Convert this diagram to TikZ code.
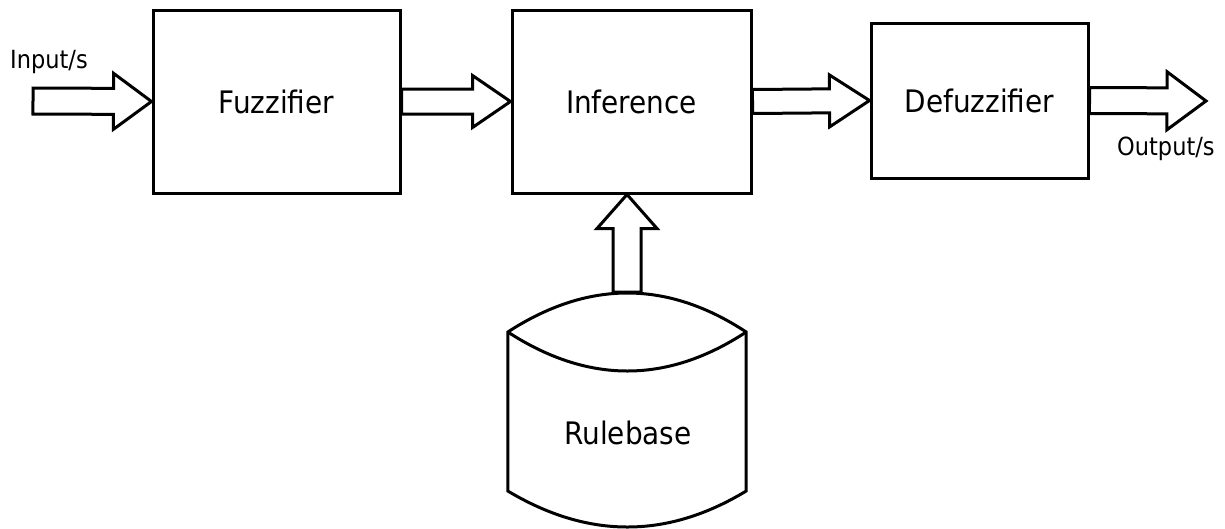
\documentclass[tikz,border=0pt]{standalone}
\usepackage{fontspec}
\setmainfont{DejaVu Sans Condensed}
\usetikzlibrary{calc}

% Hollow block arrow from #1 to #2: half shaft width #3, half head width #4, head length #5 (pt)
\newcommand\blockarrow[5]{%
  \draw[outline] let \p1=(#1), \p2=(#2),
      \n1={veclen(\x2-\x1,\y2-\y1)}, \n2={atan2(\y2-\y1,\x2-\x1)} in
    [shift={(\p1)}, rotate={\n2}]
    (0pt,#3pt) -- ({\n1-#5pt},#3pt) -- ({\n1-#5pt},#4pt) -- (\n1,0pt)
    -- ({\n1-#5pt},-#4pt) -- ({\n1-#5pt},-#3pt) -- (0pt,-#3pt) -- cycle;}

\begin{document}
\begin{tikzpicture}[x=1pt,y=-1pt,
  outline/.style={draw=black,line width=3pt,line join=miter,fill=white},
  block/.style={outline,rectangle,inner sep=0pt,font=\fontsize{31}{36}\selectfont},
  tag/.style={inner sep=0pt,font=\fontsize{25}{30}\selectfont}]
\useasboundingbox[fill=white] (0,0) rectangle (1225,528);

% processing blocks
\node[block,minimum width=247pt,minimum height=183pt] (fuzz) at (276.5,101.5) {Fuzzifier};
\node[block,minimum width=239pt,minimum height=183pt] (inf) at (631.5,101.5) {Inference};
\node[block,minimum width=217pt,minimum height=155pt] (defuzz) at (979.5,100.5) {Defuzzifier};

% rule base drum
\node[inner sep=0pt,minimum width=238pt,minimum height=234pt] (rule) at (627,410) {};
\draw[outline]
  (rule.west |- 0,332) .. controls (588,280) and (667,280) .. (rule.east |- 0,332)
  -- (rule.east |- 0,491) .. controls (667,539) and (588,539) .. (rule.west |- 0,491) -- cycle;
\draw[outline,fill=none]
  (rule.west |- 0,332) .. controls (588,384) and (667,384) .. (rule.east |- 0,332);
\node[font=\fontsize{31}{36}\selectfont,inner sep=0pt] (rulelabel) at (628,433) {Rulebase};
\coordinate (ruletop) at (rule.north |- 0,292);

% signal path
\coordinate (in) at (33,101);
\coordinate (out) at (1206,101);
\blockarrow{in}{fuzz.west}{13}{28}{38}
\blockarrow{fuzz.east}{inf.west}{12.5}{26}{38}
\blockarrow{inf.east}{defuzz.west}{12}{26}{40}
\blockarrow{defuzz.east}{out}{13}{29}{39}
\blockarrow{ruletop}{inf.south -| ruletop}{14}{30}{34}

% external signal labels
\node[tag,anchor=base west] (inlabel) at (10,68) {Input/s};
\node[tag,anchor=base west] (outlabel) at (1117,155) {Output/s};
\end{tikzpicture}
\end{document}
